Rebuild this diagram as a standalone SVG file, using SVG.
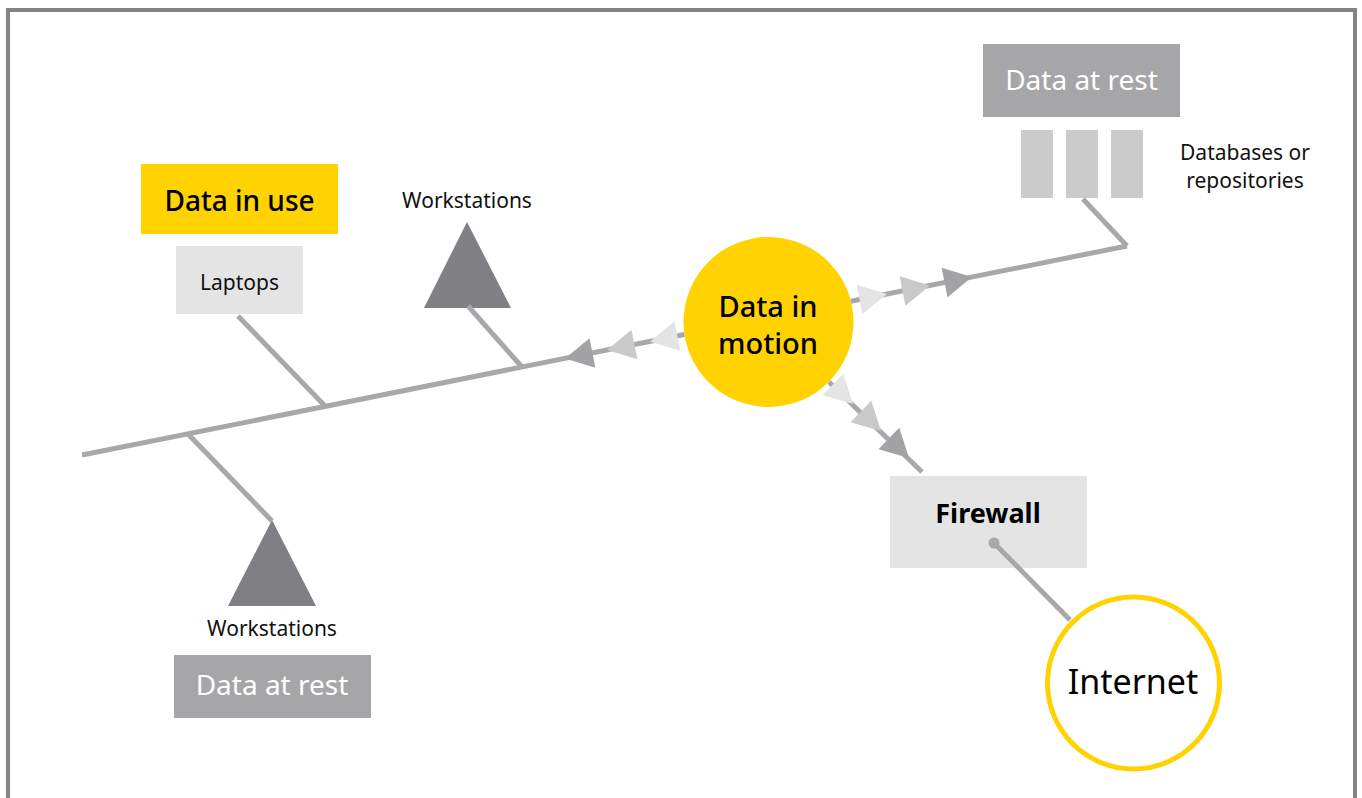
<svg xmlns="http://www.w3.org/2000/svg" width="1362" height="798" viewBox="0 0 1362 798">
<defs>
<style>
.ln{stroke:#a8a8aa;stroke-width:5;fill:none}
.t{font-family:"Noto Sans","Liberation Sans",sans-serif;text-anchor:middle}
.sm{font-size:21px;fill:#111}
.wt{font-size:28px;fill:#fff}
.hd{font-size:28px;font-weight:500;fill:#000}
.dark{fill:#a3a3a5}.mid{fill:#c9c9ca}.light{fill:#e4e4e4}
.ws{fill:#807f84}
</style>
<path id="ar" d="M0,0 L-28,-15 L-28,15 Z"/>
</defs>
<rect width="1362" height="798" fill="#fff"/>
<rect x="8" y="10" width="1347" height="800" fill="none" stroke="#858388" stroke-width="4"/>
<g id="data-in-motion">
<circle cx="768.5" cy="322" r="85" fill="#ffd200"/>
<text class="t hd" x="768" y="317" style="font-size:29px">Data in</text>
<text class="t hd" x="768" y="354" style="font-size:29px">motion</text>
</g>
<g id="data-in-use">
<rect x="141" y="164" width="197" height="70" fill="#ffd200"/>
<text class="t hd" x="239.5" y="211">Data in use</text>
</g>
<g id="laptops">
<rect x="176" y="246" width="127" height="68" fill="#e4e4e4"/>
<text class="t sm" x="239.5" y="290">Laptops</text>
</g>
<g id="workstations-top">
<text class="t sm" x="467" y="208">Workstations</text>
<polygon class="ws" points="467,222 424,308 511,308"/>
</g>
<g id="workstations-bottom">
<polygon class="ws" points="272,520 228,606 316,606"/>
<text class="t sm" x="272" y="636">Workstations</text>
</g>
<g id="data-at-rest-bottom">
<rect x="174" y="655" width="197" height="63" fill="#a6a6a8"/>
<text class="t wt" x="272" y="695">Data at rest</text>
</g>
<g id="data-at-rest-top">
<rect x="983" y="44" width="197" height="73" fill="#a6a6a8"/>
<text class="t wt" x="1081.5" y="90">Data at rest</text>
</g>
<g id="databases">
<rect x="1021" y="130" width="32" height="68" fill="#cbcbcc"/>
<rect x="1066" y="130" width="32" height="68" fill="#cbcbcc"/>
<rect x="1111" y="130" width="32" height="68" fill="#cbcbcc"/>
<text class="t sm" x="1245" y="160">Databases or</text>
<text class="t sm" x="1245" y="188">repositories</text>
</g>
<g id="firewall">
<rect x="890" y="476" width="197" height="92" fill="#e4e4e4"/>
<text class="t" x="988" y="523" style="font-size:27px;font-weight:700;fill:#000">Firewall</text>
</g>
<g id="internet">
<circle cx="1133.5" cy="683" r="86" fill="#fff" stroke="#ffd200" stroke-width="5"/>
<text class="t" x="1133" y="694" style="font-size:34px;fill:#000">Internet</text>
</g>
<g id="connectors">
<line class="ln" x1="82" y1="455" x2="684.4" y2="334.5"/>
<line class="ln" x1="850.9" y1="301.2" x2="1127" y2="246"/>
<polyline class="ln" points="1127,246 1083,199"/>
<line class="ln" x1="238" y1="316" x2="325" y2="406"/>
<line class="ln" x1="468" y1="306" x2="522" y2="367"/>
<line class="ln" x1="188" y1="434" x2="272" y2="521"/>
<line class="ln" x1="829" y1="382" x2="922" y2="472"/>
<line class="ln" x1="994" y1="543" x2="1070" y2="620"/>
<circle cx="994" cy="543" r="5.5" fill="#a8a8aa"/>
<use href="#ar" class="light" transform="translate(650,341.5) rotate(168.69)"/>
<use href="#ar" class="mid" transform="translate(607,350) rotate(168.69)"/>
<use href="#ar" class="dark" transform="translate(565,358.5) rotate(168.69)"/>
<use href="#ar" class="light" transform="translate(887,294) rotate(-11.31)"/>
<use href="#ar" class="mid" transform="translate(930,285.5) rotate(-11.31)"/>
<use href="#ar" class="dark" transform="translate(972,277) rotate(-11.31)"/>
<use href="#ar" class="light" transform="translate(853,404) rotate(44)"/>
<use href="#ar" class="mid" transform="translate(881,431) rotate(44)"/>
<use href="#ar" class="dark" transform="translate(909,458) rotate(44)"/>
</g>
</svg>
